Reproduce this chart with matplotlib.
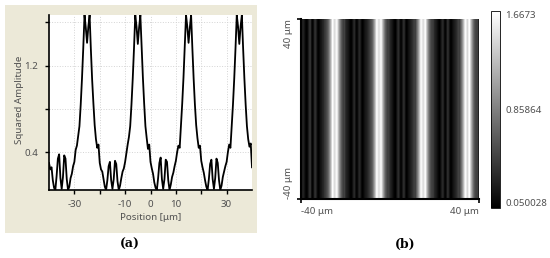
import numpy as np
import matplotlib
matplotlib.use('Agg')
import matplotlib.pyplot as plt
from matplotlib.patches import Rectangle

plt.rcParams['font.family'] = ['Noto Sans', 'DejaVu Sans']

position = np.linspace(-40, 40, 161)
amplitude = [
    0.30, 0.24, 0.26, 0.14, 0.07, 0.05, 0.18, 0.34, 0.38, 0.16,
    0.06, 0.17, 0.37, 0.34, 0.15, 0.05, 0.08, 0.16, 0.20, 0.27,
    0.31, 0.42, 0.46, 0.55, 0.64, 0.84, 1.08, 1.36, 1.6673, 1.55,
    1.41, 1.56, 1.6673, 1.35, 1.07, 0.85, 0.65, 0.52, 0.44, 0.47,
    0.30, 0.24, 0.22, 0.15, 0.08, 0.05, 0.14, 0.27, 0.31, 0.14,
    0.06, 0.15, 0.32, 0.29, 0.13, 0.050028, 0.09, 0.16, 0.22, 0.25,
    0.31, 0.39, 0.47, 0.54, 0.64, 0.84, 1.08, 1.36, 1.6673, 1.56,
    1.40, 1.55, 1.6673, 1.37, 1.09, 0.85, 0.64, 0.53, 0.43, 0.47,
    0.31, 0.25, 0.20, 0.12, 0.07, 0.05, 0.16, 0.30, 0.35, 0.15,
    0.06, 0.15, 0.33, 0.31, 0.14, 0.05, 0.10, 0.17, 0.21, 0.27,
    0.32, 0.40, 0.46, 0.44, 0.65, 0.85, 1.09, 1.37, 1.6673, 1.56,
    1.41, 1.55, 1.6673, 1.36, 1.08, 0.84, 0.65, 0.53, 0.44, 0.46,
    0.32, 0.26, 0.21, 0.14, 0.08, 0.05, 0.15, 0.29, 0.33, 0.15,
    0.06, 0.16, 0.34, 0.30, 0.14, 0.05, 0.09, 0.17, 0.22, 0.27,
    0.31, 0.40, 0.47, 0.44, 0.64, 0.84, 1.08, 1.36, 1.6673, 1.56,
    1.40, 1.56, 1.6673, 1.36, 1.08, 0.84, 0.64, 0.52, 0.45, 0.48,
    0.26,
]
amp_min, amp_max = 0.050028, 1.6673
cbar_ticks = [0.050028, 0.85864, 1.6673]
cbar_labels = ['0.050028', '0.85864', '1.6673']
x_ticks = [-30, -20, -10, 0, 10, 20, 30]
x_labels = ['-30', '', '-10', '0', '10', '', '30']
y_ticks = [0.4, 0.8, 1.2, 1.6]
y_labels = ['0.4', '', '1.2', '']

W, H = 550, 258
txt = '#505050'
fig = plt.figure(figsize=(W / 100, H / 100), dpi=100)

# beige panel behind (a)
fig.patches.append(Rectangle((5 / W, 1 - 233 / H), 252 / W, 228 / H,
                             transform=fig.transFigure, facecolor='#ece9d8',
                             edgecolor='none', zorder=-5))

# ---- (a) line profile
ax = fig.add_axes([49 / W, 1 - 190 / H, 203 / W, 175 / H])
ax.plot(position, amplitude, color='black', lw=1.3)
ax.set_xlim(-40, 40)
ax.set_ylim(amp_min, amp_max)
ax.set_xticks(x_ticks)
ax.set_xticklabels(x_labels)
ax.set_yticks(y_ticks)
ax.set_yticklabels(y_labels)
ax.grid(True, color='#d4d4d4', ls=':', lw=0.7)
ax.set_axisbelow(True)
for s in ['top', 'right']:
    ax.spines[s].set_visible(False)
for s in ['left', 'bottom']:
    ax.spines[s].set_linewidth(1.2)
ax.tick_params(length=3, width=1, labelsize=7, labelcolor=txt, pad=4)
ax.tick_params(axis='y', pad=5)
fig.text(151 / W, 1 - 217 / H, 'Position [μm]', fontsize=7, color=txt,
         ha='center', va='center')
fig.text(20 / W, 1 - 100 / H, 'Squared Amplitude', fontsize=7, color=txt,
         ha='center', va='center', rotation=90)

# ---- (b) intensity map
ax2 = fig.add_axes([301 / W, 1 - 199 / H, 178 / W, 180 / H])
img = np.tile(np.array(amplitude), (60, 1))
im = ax2.imshow(img, cmap='gray', vmin=amp_min, vmax=amp_max, aspect='auto',
                extent=[-40, 40, -40, 40], interpolation='bilinear')
for s in ['top', 'right']:
    ax2.spines[s].set_visible(False)
for s in ['left', 'bottom']:
    ax2.spines[s].set_linewidth(1.5)
ax2.set_xticks([-40, 40])
ax2.set_xticklabels(['-40 μm', '40 μm'])
ax2.set_yticks([-40, 40])
ax2.set_yticklabels(['-40 μm', '40 μm'], rotation=90)
ax2.tick_params(length=3, width=1.2, labelsize=7, labelcolor=txt, pad=3)
xl = ax2.get_xticklabels()
xl[0].set_ha('left')
xl[1].set_ha('right')
yl = ax2.get_yticklabels()
yl[0].set_va('bottom')
yl[1].set_va('top')

cax = fig.add_axes([491 / W, 1 - 208 / H, 9 / W, 197 / H])
cb = fig.colorbar(im, cax=cax)
cb.set_ticks(cbar_ticks)
cb.set_ticklabels(cbar_labels)
cb.outline.set_linewidth(0.6)
cax.tick_params(length=0, labelsize=7, labelcolor=txt, pad=4)
cax.get_yticklabels()[0].set_va('bottom')
cax.get_yticklabels()[2].set_va('top')

fig.text(130 / W, 1 - 244 / H, '(a)', fontsize=9, family='DejaVu Serif',
         weight='bold', ha='center', va='center')
fig.text(405 / W, 1 - 244 / H, '(b)', fontsize=9, family='DejaVu Serif',
         weight='bold', ha='center', va='center')

fig.savefig('out.png', dpi=100)
